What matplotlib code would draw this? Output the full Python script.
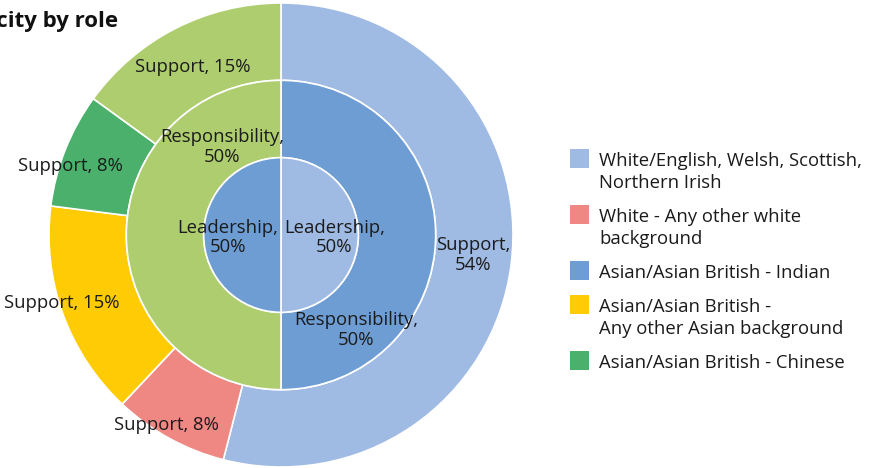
import matplotlib
matplotlib.use("Agg")
import matplotlib.pyplot as plt
from matplotlib.patches import Rectangle
import numpy as np

plt.rcParams['font.family'] = ['Open Sans', 'DejaVu Sans']

title = "Ethnicity by role"

# Rings (inner -> outer)
inner_labels = ["Leadership", "Leadership"]
inner_values = [50, 50]
middle_labels = ["Responsibility", "Responsibility"]
middle_values = [50, 50]
outer_labels = ["Support", "Support", "Support", "Support", "Support"]
outer_values = [54, 8, 15, 8, 15]

categories = ["White/English, Welsh, Scottish,\nNorthern Irish",
              "White - Any other white\nbackground",
              "Asian/Asian British - Indian",
              "Asian/Asian British -\nAny other Asian background",
              "Asian/Asian British - Chinese"]
cat_colors = ["#9FBAE3", "#EF8783", "#6D9DD3", "#FFCB05", "#4BB06B"]
light_green = "#AECD6F"

inner_colors = [cat_colors[0], cat_colors[2]]
middle_colors = [cat_colors[2], light_green]
outer_colors = [cat_colors[0], cat_colors[1], cat_colors[3], cat_colors[4], light_green]

W, H = 876, 468
fig = plt.figure(figsize=(W / 100, H / 100), dpi=100)
cx, cy, R = 281, 235, 232
ax = fig.add_axes([(cx - R) / W, (H - cy - R) / H, 2 * R / W, 2 * R / H])
ax.set_xlim(-1, 1)
ax.set_ylim(-1, 1)
ax.set_aspect('equal')
ax.axis('off')

wp = dict(width=1 / 3, edgecolor='white', linewidth=1.2)
ax.pie(outer_values, radius=1.0, colors=outer_colors, startangle=90,
       counterclock=False, wedgeprops=wp)
ax.pie(middle_values, radius=2 / 3, colors=middle_colors, startangle=90,
       counterclock=False, wedgeprops=wp)
ax.pie(inner_values, radius=1 / 3, colors=inner_colors, startangle=90,
       counterclock=False, wedgeprops=dict(edgecolor='white', linewidth=1.2))
ax.set_xlim(-1, 1)
ax.set_ylim(-1, 1)

txt_color = "#1b1b1b"
fs = 13.3


def ring_labels(labels, values, r, nudges, two_line):
    vals = np.array(values, dtype=float)
    tot = vals.sum()
    cum = np.cumsum(vals) - vals / 2
    for lab, v, c, (dx, dy), tl in zip(labels, vals, cum, nudges, two_line):
        th = np.deg2rad(90 - 360 * c / tot)
        x = r * np.cos(th) + dx
        y = r * np.sin(th) + dy
        pct = f"{int(round(100 * v / tot))}%"
        s = f"{lab},\n{pct}" if tl else f"{lab}, {pct}"
        ax.text(x, y, s, ha='center', va='center', fontsize=fs,
                color=txt_color, linespacing=1.1)


ring_labels(outer_labels, outer_values, 0.834,
            [(0, 0.018), (-0.09, -0.086), (-0.16, -0.01), (-0.134, -0.01), (0, -0.02)],
            [True, False, False, False, False])
ring_labels(middle_labels, middle_values, 0.502,
            [(-0.179, -0.409), (0.248, 0.379)], [True, True])
ring_labels(inner_labels, inner_values, 0.23,
            [(0, -0.01), (0, -0.01)], [True, True])

# Title
fig.text(118 / W, 1 - 27 / H, title, ha='right', va='baseline',
         fontsize=16, fontweight='bold', color='#111111')

# Legend (manual)
base = 166
for cat, col in zip(categories, cat_colors):
    lines = cat.split("\n")
    fig.patches.append(Rectangle((570 / W, 1 - (base + 2) / H), 19 / W, 19 / H,
                                 transform=fig.transFigure, facecolor=col,
                                 edgecolor='none'))
    for k, ln in enumerate(lines):
        fig.text(599 / W, 1 - (base + 22 * k) / H, ln, ha='left', va='baseline',
                 fontsize=fs, color=txt_color)
    base += 22 * (len(lines) - 1) + 34

fig.savefig("out.png", dpi=100)
